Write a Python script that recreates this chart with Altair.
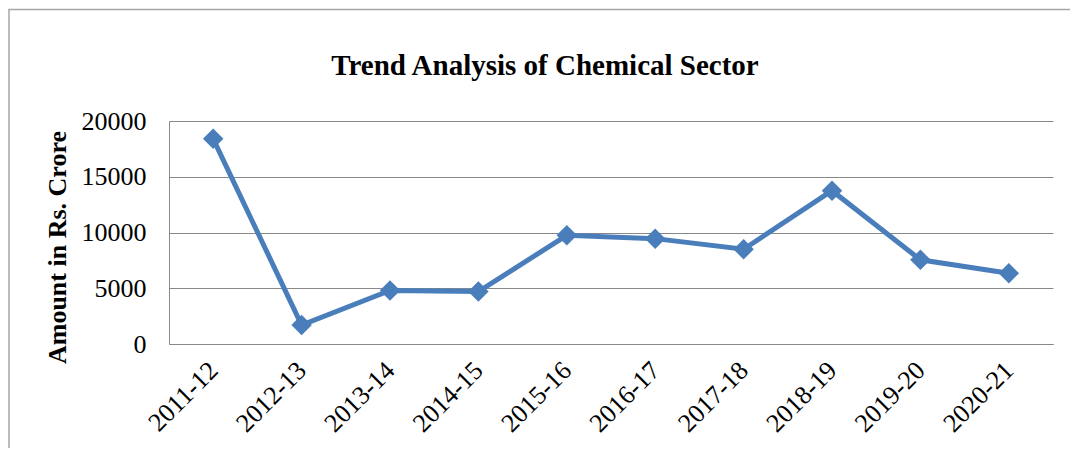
import altair as alt
import pandas as pd

years = ["2011-12", "2012-13", "2013-14", "2014-15", "2015-16",
         "2016-17", "2017-18", "2018-19", "2019-20", "2020-21"]
amounts = [18400, 1700, 4800, 4700, 9750, 9450, 8500, 13750, 7550, 6350]
y_ticks = [0, 5000, 10000, 15000, 20000]
title_text = "Trend Analysis of Chemical Sector"
y_title = "Amount in Rs. Crore"

df = pd.DataFrame({"year": years, "amount": amounts})

BLUE = "#4A7EBB"
GRID = "#888888"
FONT = "Liberation Serif"

x_enc = alt.X(
    "year:N", sort=years, title=None,
    axis=alt.Axis(labelAngle=-45, labelAlign="right", labelBaseline="middle",
                  labelFont=FONT, labelFontSize=26, labelColor="#000000",
                  labelPadding=22, ticks=False, tickSize=0,
                  domainColor=GRID, domainWidth=1, grid=False, labelOverlap=False),
)
y_enc = alt.Y(
    "amount:Q", title=y_title,
    scale=alt.Scale(domain=[0, 20000], nice=False, zero=True),
    axis=alt.Axis(values=y_ticks, format="d", labelFont=FONT, labelFontSize=26,
                  labelColor="#000000", labelPadding=23, ticks=False, tickSize=0,
                  domainColor=GRID, domainWidth=1, grid=True, gridColor=GRID,
                  gridWidth=1, titleFont=FONT, titleFontSize=26,
                  titleFontWeight="bold", titleColor="#000000", titleAngle=270,
                  titleAlign="center", titleBaseline="alphabetic",
                  titleX=-104, titleY=126),
)

base = alt.Chart(df)
line = base.mark_line(color=BLUE, strokeWidth=5).encode(x=x_enc, y=y_enc)
points = base.mark_point(shape="diamond", filled=True, size=420, color=BLUE,
                         opacity=1).encode(x=x_enc, y=y_enc)

one = alt.Data(values=[{"t": title_text}])
title = alt.Chart(one).mark_text(font=FONT, fontSize=29, fontWeight="bold",
                                 color="#000000", align="center",
                                 baseline="alphabetic").encode(
    x=alt.value(376), y=alt.value(-46), text="t:N")

frame = alt.Chart(alt.Data(values=[{}])).mark_rect(
    fill=None, stroke="#A6A6A6", strokeWidth=1.5).encode(
    x=alt.value(-160), x2=alt.value(1100),
    y=alt.value(-111.5), y2=alt.value(500))

chart = alt.layer(frame, title, line, points).properties(
    width=884, height=223,
    autosize=alt.AutoSizeParams(type="none"),
    padding={"left": 161, "top": 113, "right": 17, "bottom": 104},
).configure_view(stroke=None)

chart.save("out.html", embed_options={"renderer": "svg", "actions": False})
